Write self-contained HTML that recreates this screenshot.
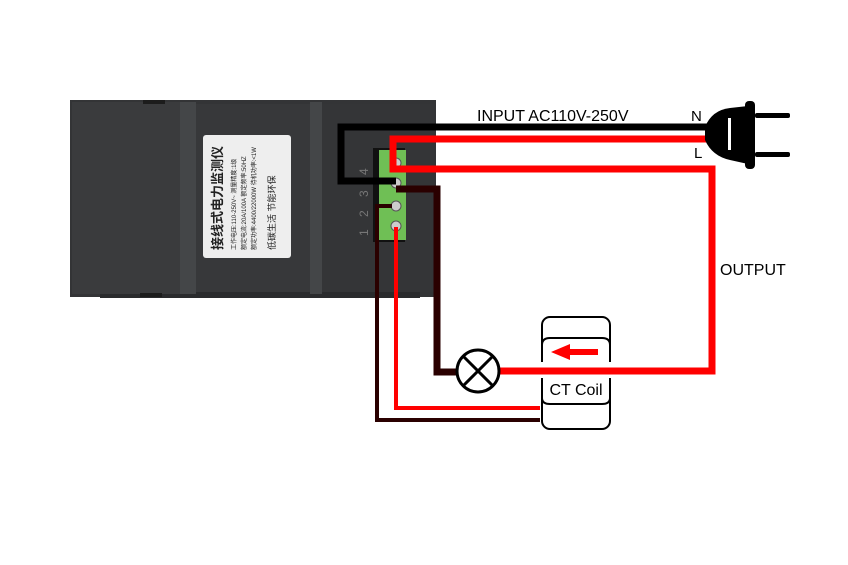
<!DOCTYPE html>
<html><head><meta charset="utf-8"><style>
html,body{margin:0;padding:0;background:#fff;width:848px;height:565px;overflow:hidden}
svg{display:block}
text{font-family:"Liberation Sans","Noto Sans CJK SC",sans-serif}
</style></head><body>
<svg width="848" height="565" viewBox="0 0 848 565" xmlns="http://www.w3.org/2000/svg">
<!-- device -->
<rect x="70" y="100" width="366" height="197" fill="#333436"/>
<rect x="100" y="290" width="320" height="8" fill="#2a2b2d"/>
<rect x="72" y="102" width="108" height="192" fill="#3a3b3d"/>
<rect x="180" y="102" width="16" height="192" fill="#444648"/>
<rect x="196" y="104" width="114" height="188" fill="#37383a"/>
<rect x="310" y="102" width="12" height="192" fill="#444648"/>
<rect x="322" y="104" width="112" height="188" fill="#343537"/>
<rect x="143" y="100" width="22" height="4" fill="#1c1c1c"/>
<rect x="140" y="293" width="22" height="4" fill="#1c1c1c"/>
<rect x="203" y="135" width="88" height="123" rx="3" fill="#eeeeee"/>
<g transform="translate(222,250) rotate(-90)" fill="#222">
<text x="0" y="0" font-size="13" font-weight="bold">接线式电力监测仪</text>
<text x="0" y="14" font-size="6">工作电压:110-250V~ 测量精度:1级</text>
<text x="0" y="24" font-size="6">额定电流:20A/100A 额定频率:50HZ</text>
<text x="0" y="34" font-size="6">额定功率:4400/22000W 待机功率:&lt;1W</text>
<text x="0" y="53" font-size="9">低碳生活 节能环保</text>
</g>
<g fill="#777" font-size="12">
<text transform="translate(368,175) rotate(-90)">4</text>
<text transform="translate(368,197) rotate(-90)">3</text>
<text transform="translate(368,217) rotate(-90)">2</text>
<text transform="translate(368,236) rotate(-90)">1</text>
</g>
<!-- terminal block -->
<rect x="373" y="148" width="32" height="94" fill="#111"/>
<rect x="379" y="150" width="27" height="90" fill="#6fbf55"/>
<g fill="#ccc" stroke="#555" stroke-width="1">
<circle cx="396" cy="163" r="5"/><circle cx="396" cy="183" r="5"/>
<circle cx="396" cy="206" r="5"/><circle cx="396" cy="226" r="5"/>
</g>
<!-- CT coil -->
<rect x="542" y="317" width="68" height="112" rx="8" fill="none" stroke="#000" stroke-width="2"/>
<path d="M542 345 Q542 338 550 338 L602 338 Q610 338 610 345" fill="none" stroke="#000" stroke-width="2"/>
<path d="M542 398 Q542 404 550 404 L602 404 Q610 404 610 398" fill="none" stroke="#000" stroke-width="2"/>
<rect x="540" y="362" width="72" height="16" fill="#fff"/>
<rect x="567" y="349" width="31" height="6" fill="#f00"/>
<polygon points="551,352 570,344 570,360" fill="#f00"/>
<text x="576" y="395" font-size="16" text-anchor="middle" fill="#000">CT Coil</text>
<!-- wires -->
<polyline points="708,127 341,127 341,181 396,181" fill="none" stroke="#000" stroke-width="7"/>
<polyline points="708,139 393,139 393,169 712,169 712,371 500,371" fill="none" stroke="#f00" stroke-width="7"/>
<polyline points="396,189 437,189 437,372 458,372" fill="none" stroke="#2a0000" stroke-width="7"/>
<polyline points="392,206 377,206 377,420 540,420" fill="none" stroke="#2a0000" stroke-width="4"/>
<polyline points="396,227 396,408 540,408" fill="none" stroke="#f00" stroke-width="4"/>
<!-- lamp -->
<circle cx="478" cy="371" r="21" fill="#fff" stroke="#000" stroke-width="3"/>
<line x1="463" y1="356" x2="493" y2="386" stroke="#000" stroke-width="3"/>
<line x1="493" y1="356" x2="463" y2="386" stroke="#000" stroke-width="3"/>
<!-- plug -->
<path d="M705 127 Q712 110 730 108 L748 106 L748 164 L730 160 Q712 156 705 140 Z" fill="#000"/>
<rect x="745" y="101" width="10" height="68" rx="4" fill="#000"/>
<rect x="728" y="118" width="3" height="32" fill="#fff"/>
<rect x="755" y="113" width="35" height="5" rx="2" fill="#000"/>
<rect x="755" y="152" width="35" height="5" rx="2" fill="#000"/>
<!-- labels -->
<text x="477" y="121" font-size="16" fill="#000">INPUT AC110V-250V</text>
<text x="691" y="121" font-size="15" fill="#000">N</text>
<text x="694" y="158" font-size="15" fill="#000">L</text>
<text x="720" y="275" font-size="16" fill="#000">OUTPUT</text>
</svg>
</body></html>
